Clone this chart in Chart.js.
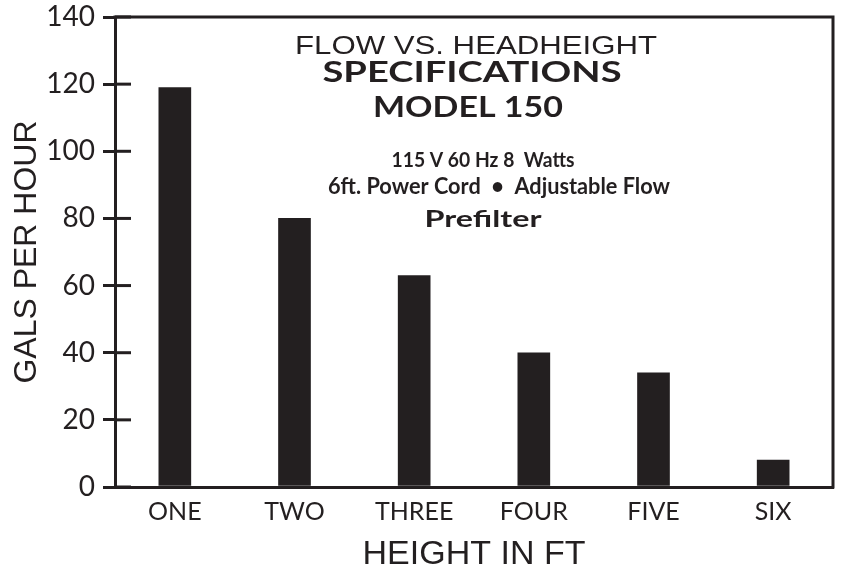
<!DOCTYPE html>
<html><head><meta charset="utf-8">
<script src="https://cdn.jsdelivr.net/npm/chart.js@4.4.1/dist/chart.umd.min.js"></script>
<style>html,body{margin:0;padding:0;background:#fff}canvas{display:block}</style>
</head><body>
<canvas id="c" width="841" height="573"></canvas>
<script>
const categories = ['ONE', 'TWO', 'THREE', 'FOUR', 'FIVE', 'SIX'];
const flowValues = [119, 80, 63, 40, 34, 8];
const yTickValues = [0, 20, 40, 60, 80, 100, 120, 140];
const xAxisTitle = 'HEIGHT IN FT';
const yAxisTitle = 'GALS PER HOUR';
const headingLines = ['FLOW VS. HEADHEIGHT', 'SPECIFICATIONS', 'MODEL 150'];
const specLines = ['115 V 60 Hz 8  Watts', '6ft. Power Cord  \u2022  Adjustable Flow', 'Prefilter'];

const INK = '#231f20';

function fitText(ctx, text, font, cx, baseline, targetW) {
  ctx.save();
  ctx.font = font;
  const w = ctx.measureText(text).width;
  const sx = targetW / w;
  ctx.translate(cx, baseline);
  ctx.scale(sx, 1);
  ctx.textAlign = 'center';
  ctx.textBaseline = 'alphabetic';
  ctx.fillStyle = INK;
  ctx.fillText(text, 0, 0);
  ctx.restore();
}

const annotate = {
  id: 'annotate',
  afterDraw(chart) {
    const ctx = chart.ctx;
    const a = chart.chartArea;
    const ys = chart.scales.y;
    ctx.save();
    ctx.strokeStyle = INK;
    ctx.lineWidth = 3;
    ctx.lineCap = 'square';
    ctx.beginPath();
    ctx.moveTo(a.left, a.top);
    ctx.lineTo(a.right, a.top);
    ctx.lineTo(a.right, a.bottom);
    ctx.stroke();
    ctx.lineCap = 'butt';
    ys.ticks.forEach((t, i) => {
      const y = ys.getPixelForTick(i);
      ctx.beginPath();
      ctx.moveTo(a.left, y);
      ctx.lineTo(a.left + 16, y);
      ctx.stroke();
    });
    ctx.restore();

    const lat = '"Lato", "Open Sans", sans-serif';
    const hel = '"Liberation Sans", Arial, sans-serif';
    fitText(ctx, headingLines[0], '400 26px ' + hel, 476, 53.5, 362);
    fitText(ctx, headingLines[1], '700 28px ' + lat, 472, 81.7, 299);
    fitText(ctx, headingLines[2], '700 28px ' + lat, 468, 116.7, 190);
    fitText(ctx, specLines[0], '700 21px ' + lat, 483, 167, 183);
    fitText(ctx, specLines[1], '700 22px ' + lat, 499, 193.5, 342);
    fitText(ctx, specLines[2], '700 22px ' + lat, 483, 226.5, 117);
  }
};

new Chart(document.getElementById('c'), {
  type: 'bar',
  data: {
    labels: categories,
    datasets: [{ data: flowValues, backgroundColor: INK, barThickness: 32, borderWidth: 0 }]
  },
  options: {
    responsive: false,
    animation: false,
    devicePixelRatio: 1,
    layout: { padding: { top: 17, right: 8, left: 0, bottom: 0 } },
    plugins: { legend: { display: false }, tooltip: { enabled: false } },
    scales: {
      x: {
        grid: { display: false, drawTicks: false },
        border: { display: true, color: INK, width: 3 },
        ticks: { color: INK, font: { family: 'Lato', size: 25 }, padding: 10, maxRotation: 0, autoSkip: false },
        title: { display: true, text: xAxisTitle, color: INK,
                 font: { family: 'Liberation Sans', size: 34, lineHeight: 1 }, padding: { top: 0, bottom: 1 } },
        afterFit(s) { s.height = 86; }
      },
      y: {
        min: 0, max: 140,
        afterBuildTicks(s) { s.ticks = yTickValues.map(v => ({ value: v })); },
        grid: { drawOnChartArea: false, drawTicks: true, tickLength: 12, lineWidth: 3, color: INK },
        border: { display: true, color: INK, width: 3 },
        ticks: { color: INK, font: { family: 'Lato', size: 28, lineHeight: 0.5 }, padding: 8 },
        title: { display: true, text: yAxisTitle, color: INK,
                 font: { family: 'Liberation Sans', size: 32, lineHeight: 1 }, padding: { top: 11, bottom: 0 } },
        afterFit(s) { s.width = 115; }
      }
    }
  },
  plugins: [annotate]
});
</script>
</body></html>
